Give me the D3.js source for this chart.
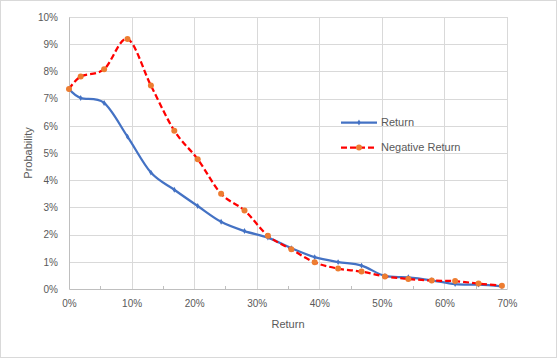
<!DOCTYPE html>
<html>
<head>
<meta charset="utf-8">
<script src="https://cdn.jsdelivr.net/npm/d3@7"></script>
<style>
  body { margin: 0; background: #fff; }
  text { font-family: "Liberation Sans", Arial, sans-serif; fill: #595959; }
</style>
</head>
<body>
<div id="chart"></div>
<script>
var svgWidth = 557;
var svgHeight = 358;

var margin = { top: 17, right: 50, bottom: 69, left: 69 };
var width = 507 - margin.left;
var height = 289 - margin.top;

// data (x in %, probability in %)
var returnX = [0, 1.87, 5.61, 9.35, 13.09, 16.83, 20.57, 24.31, 28.05, 31.79,
  35.53, 39.27, 43.01, 46.75, 50.49, 54.23, 57.97, 61.71, 65.45, 69.19];
var returnY = [7.35, 7.02, 6.84, 5.6, 4.28, 3.65, 3.05, 2.47, 2.13, 1.89,
  1.5, 1.17, 0.99, 0.86, 0.48, 0.43, 0.32, 0.18, 0.16, 0.1];
var negativeY = [7.35, 7.81, 8.08, 9.19, 7.48, 5.82, 4.77, 3.5, 2.89, 1.96,
  1.46, 0.98, 0.75, 0.64, 0.46, 0.37, 0.31, 0.29, 0.2, 0.12];
var xTicks = [0, 10, 20, 30, 40, 50, 60, 70];
var yTicks = [0, 1, 2, 3, 4, 5, 6, 7, 8, 9, 10];
var seriesNames = ["Return", "Negative Return"];

var blue = "#4472c4", red = "#ff0000", orange = "#ed7d31";

var svg = d3.select("#chart")
  .append("svg")
  .attr("width", svgWidth)
  .attr("height", svgHeight);

// chart area border
svg.append("rect")
  .attr("x", 0.5).attr("y", 0.5)
  .attr("width", svgWidth - 1).attr("height", svgHeight - 1)
  .attr("fill", "#fff").attr("stroke", "#d9d9d9");

var chartGroup = svg.append("g")
  .attr("transform", `translate(${margin.left}, ${margin.top})`);

var x = d3.scaleLinear().domain([0, 70]).range([0, width]);
var y = d3.scaleLinear().domain([0, 10]).range([height, 0]);

// gridlines
chartGroup.append("g")
  .selectAll("line.h")
  .data(yTicks.slice(1))
  .enter().append("line")
  .attr("x1", 0).attr("x2", width)
  .attr("y1", d => Math.round(y(d)) + 0.5).attr("y2", d => Math.round(y(d)) + 0.5)
  .attr("stroke", "#d9d9d9");

chartGroup.append("g")
  .selectAll("line.v")
  .data(xTicks.slice(1))
  .enter().append("line")
  .attr("x1", d => Math.round(x(d)) + 0.5).attr("x2", d => Math.round(x(d)) + 0.5)
  .attr("y1", 0).attr("y2", height)
  .attr("stroke", "#d9d9d9");

// minor ticks on x axis (5%, 15%, ...)
chartGroup.append("g")
  .selectAll("line")
  .data(d3.range(5, 70, 10))
  .enter().append("line")
  .attr("x1", d => Math.round(x(d)) + 0.5).attr("x2", d => Math.round(x(d)) + 0.5)
  .attr("y1", height - 3).attr("y2", height)
  .attr("stroke", "#bfbfbf");

// axes
var bottomAxis = d3.axisBottom(x)
  .tickValues(xTicks)
  .tickSize(0)
  .tickPadding(11)
  .tickFormat(d => d + "%");
var leftAxis = d3.axisLeft(y)
  .tickValues(yTicks)
  .tickSize(0)
  .tickPadding(11)
  .tickFormat(d => d + "%");

var gx = chartGroup.append("g")
  .attr("transform", `translate(0, ${height})`)
  .call(bottomAxis);
var gy = chartGroup.append("g")
  .call(leftAxis);

[gx, gy].forEach(function (g) {
  g.select(".domain").attr("stroke", "#bfbfbf");
  g.selectAll("text").attr("font-size", 10)
    .attr("font-family", "Liberation Sans, Arial, sans-serif")
    .attr("fill", "#595959");
});

// lines
var returnData = returnX.map((d, i) => [d, returnY[i]]);
var negativeData = returnX.map((d, i) => [d, negativeY[i]]);

var line = d3.line()
  .x(d => x(d[0]))
  .y(d => y(d[1]))
  .curve(d3.curveCatmullRom.alpha(0));

chartGroup.append("path")
  .datum(returnData)
  .attr("d", line)
  .attr("fill", "none")
  .attr("stroke", blue)
  .attr("stroke-width", 2.25);

chartGroup.append("g")
  .selectAll("path")
  .data(returnData)
  .enter().append("path")
  .attr("transform", d => `translate(${x(d[0])}, ${y(d[1])})`)
  .attr("d", d3.symbol().type(d3.symbolDiamond).size(10))
  .attr("fill", blue);

chartGroup.append("path")
  .datum(negativeData)
  .attr("d", line)
  .attr("fill", "none")
  .attr("stroke", red)
  .attr("stroke-width", 2.25)
  .attr("stroke-dasharray", "6,3");

chartGroup.append("g")
  .selectAll("circle")
  .data(negativeData)
  .enter().append("circle")
  .attr("cx", d => x(d[0]))
  .attr("cy", d => y(d[1]))
  .attr("r", 3)
  .attr("fill", orange);

// legend
var legend = svg.append("g");
legend.append("line")
  .attr("x1", 341).attr("x2", 377).attr("y1", 122.5).attr("y2", 122.5)
  .attr("stroke", blue).attr("stroke-width", 2.25);
legend.append("path")
  .attr("transform", "translate(359, 122.5)")
  .attr("d", d3.symbol().type(d3.symbolDiamond).size(10))
  .attr("fill", blue);
legend.append("line")
  .attr("x1", 341).attr("x2", 377).attr("y1", 147.5).attr("y2", 147.5)
  .attr("stroke", red).attr("stroke-width", 2.25)
  .attr("stroke-dasharray", "6,3");
legend.append("circle")
  .attr("cx", 359).attr("cy", 147.5).attr("r", 3)
  .attr("fill", orange);
legend.selectAll("text")
  .data(seriesNames)
  .enter().append("text")
  .attr("x", 381)
  .attr("y", (d, i) => 122.5 + i * 25)
  .attr("dy", "0.35em")
  .attr("font-size", 11)
  .text(d => d);

// axis titles
chartGroup.append("text")
  .attr("transform", "rotate(-90)")
  .attr("x", -height / 2)
  .attr("y", 28 - margin.left)
  .attr("dy", "0.35em")
  .attr("text-anchor", "middle")
  .attr("font-size", 11)
  .text("Probability");

chartGroup.append("text")
  .attr("x", width / 2)
  .attr("y", 324 - margin.top)
  .attr("dy", "0.35em")
  .attr("text-anchor", "middle")
  .attr("font-size", 11)
  .text("Return");
</script>
</body>
</html>
